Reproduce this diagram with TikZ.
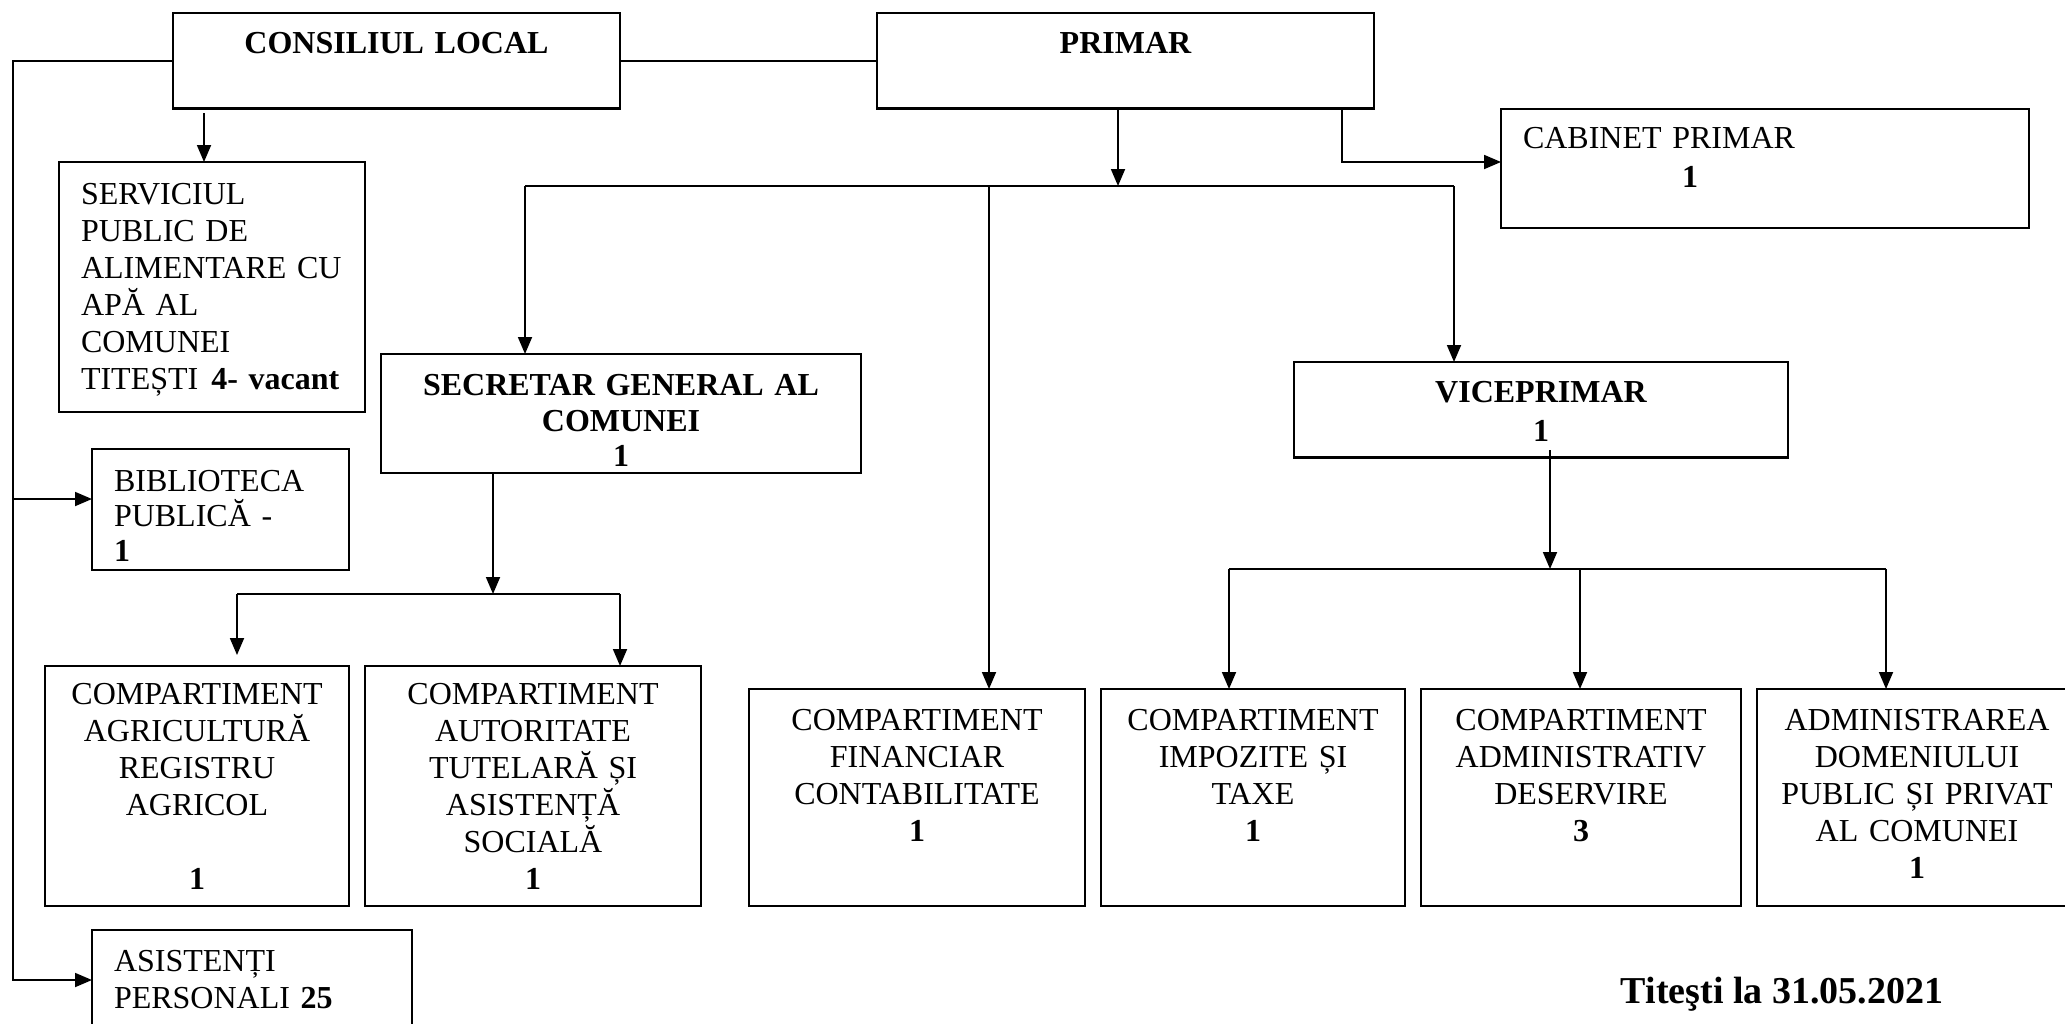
\documentclass[tikz,border=0pt]{standalone}
\usepackage{fontspec}
\setmainfont{Liberation Serif}
\usetikzlibrary{positioning,arrows.meta}
\tikzset{
  unitbox/.style={draw, line width=1.1pt, align=center, inner xsep=0pt, inner ysep=0pt, outer sep=0pt,
                  font=\fontsize{16}{18.5}\selectfont},
  leftbox/.style={unitbox, align=left, inner xsep=11pt},
  headbox/.style={font=\fontsize{16}{18.5}\selectfont\bfseries, text height=20.25pt, text depth=27.5pt},
  rowbox/.style={text height=20.75pt, text depth=87.75pt},
  agribox/.style={text height=19.25pt, text depth=100.75pt},
  fwd/.style={-{Triangle[length=8.5pt,width=7pt]}, line width=0.9pt},
  link/.style={line width=0.9pt},
}

\begin{document}
\begin{tikzpicture}[x=0.5pt,y=-0.5pt]
\useasboundingbox (0,0) rectangle (2065,1023);
\clip (0,0) rectangle (2065,1023);
%Nodes
\node[unitbox, headbox, text width=223.5pt, anchor=north west] (consiliu) at (173,13) {CONSILIUL LOCAL};
\node[unitbox, headbox, text width=248.5pt] (primar) [right=128.5pt of consiliu] {PRIMAR};
\node[leftbox, text width=242pt, text height=19.75pt, text depth=39.75pt, anchor=north west] (cabinet) at (1501,109) {CABINET PRIMAR\\[1pt]\hspace*{79.5pt}\textbf{1}};
\node[leftbox, text width=131pt, text height=21.25pt, text depth=103.75pt, anchor=north west] (serviciu) at (59,162) {SERVICIUL\\PUBLIC DE\\ALIMENTARE CU\\APĂ AL\\COMUNEI\\\mbox{TITEȘTI\hspace*{6.5pt}\textbf{4- vacant}}};
\node[leftbox, text width=106.5pt, text height=21.25pt, text depth=39.25pt, anchor=north west] (biblio) at (92,449) {BIBLIOTECA\\[-1pt]PUBLICĂ -\\[-1pt]\textbf{1}};
\node[leftbox, text width=138pt, text height=20.75pt, text depth=60pt, anchor=north west] (asist) at (92,930) {ASISTENȚI\\PERSONALI \textbf{25}};
\node[unitbox, font=\fontsize{16}{17.75}\selectfont\bfseries, text width=240pt, text height=20.75pt, text depth=38.75pt, anchor=north west] (secretar) at (381,354) {SECRETAR GENERAL AL\\COMUNEI\\1};
\node[unitbox, headbox, text width=247pt, anchor=north west] (vice) at (1294,362) {VICEPRIMAR\\[1pt]1};
\node[unitbox, agribox, text width=152pt, anchor=north west] (agri) at (45,666) {COMPARTIMENT\\AGRICULTURĂ\\REGISTRU\\AGRICOL\\[18.5pt]\textbf{1}};
\node[unitbox, agribox, text width=168pt] (autoritate) [right=8pt of agri] {COMPARTIMENT\\AUTORITATE\\TUTELARĂ ȘI\\ASISTENȚĂ\\SOCIALĂ\\\textbf{1}};
\node[unitbox, rowbox, text width=168pt, anchor=north west] (financiar) at (749,689) {COMPARTIMENT\\FINANCIAR\\CONTABILITATE\\\textbf{1}};
\node[unitbox, rowbox, text width=152pt] (impozite) [right=8pt of financiar] {COMPARTIMENT\\IMPOZITE ȘI\\TAXE\\\textbf{1}};
\node[unitbox, rowbox, text width=160pt] (deservire) [right=8pt of impozite] {COMPARTIMENT\\ADMINISTRATIV\\DESERVIRE\\\textbf{3}};
\node[unitbox, rowbox, text width=160pt] (domeniu) [right=8pt of deservire] {ADMINISTRAREA\\DOMENIULUI\\PUBLIC ȘI PRIVAT\\AL COMUNEI\\\textbf{1}};
\node[font=\fontsize{19}{22}\selectfont\bfseries, anchor=base] (data) at (1782,1003) {Titeşti la 31.05.2021};

%Lines
\coordinate (lbus) at (13,980);
\coordinate (lbib) at (13,499);
\coordinate (sv) at (204,113);
\coordinate (pm) at (1118,186);
\coordinate (mbl) at (525,186);
\coordinate (mbf) at (989,186);
\coordinate (mbr) at (1454,186);
\coordinate (cb) at (1342,162);
\coordinate (sb) at (493,594);
\coordinate (sbl) at (237,594);
\coordinate (sbr) at (620,594);
\coordinate (sba) at (237,655);
\coordinate (vs) at (1550,450);
\coordinate (vb) at (1550,569);
\coordinate (vbl) at (1229,569);
\coordinate (vbm) at (1580,569);
\coordinate (vbr) at (1886,569);

\draw[link] (consiliu) -- (primar);
\draw[fwd] (consiliu.west) -| (lbus) -- (lbus -| asist.west);
\draw[fwd] (lbib) -- (lbib -| biblio.west);
\draw[fwd] (sv) -- (sv |- serviciu.north);

\draw[fwd] (pm |- primar.south) -- (pm);
\draw[link] (mbl) -- (mbr);
\draw[fwd] (mbl) -- (mbl |- secretar.north);
\draw[fwd] (mbf) -- (mbf |- financiar.north);
\draw[fwd] (mbr) -- (mbr |- vice.north);
\draw[fwd] (cb |- primar.south) -- (cb) -- (cb -| cabinet.west);

\draw[fwd] (sb |- secretar.south) -- (sb);
\draw[link] (sbl) -- (sbr);
\draw[fwd] (sbl) -- (sba);
\draw[fwd] (sbr) -- (sbr |- autoritate.north);

\draw[fwd] (vs) -- (vb);
\draw[link] (vbl) -- (vbr);
\draw[fwd] (vbl) -- (vbl |- impozite.north);
\draw[fwd] (vbm) -- (vbm |- deservire.north);
\draw[fwd] (vbr) -- (vbr |- domeniu.north);
\end{tikzpicture}
\end{document}
